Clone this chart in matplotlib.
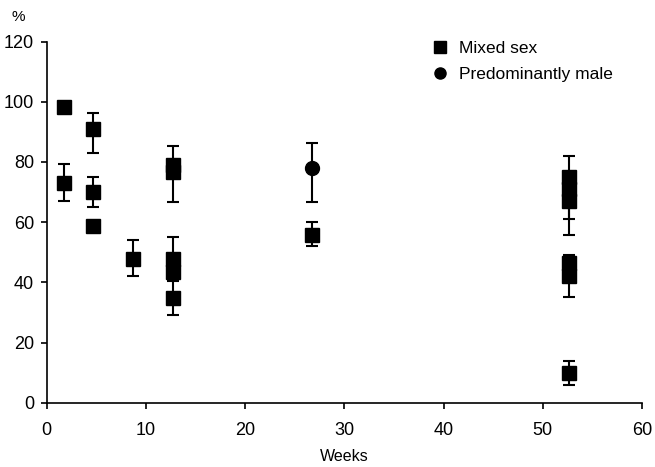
import numpy as np
import matplotlib.pyplot as plt
from matplotlib.lines import Line2D

plt.rcParams['font.family'] = ['Liberation Sans', 'DejaVu Sans']

# mixed sex studies: week, mean %, lower and upper error bar ends (nan = no bar)
mixed_weeks = [1.7, 1.7, 4.7, 4.7, 4.7, 8.7, 12.7, 12.7, 12.7, 12.7, 12.7, 26.7,
               52.6, 52.6, 52.6, 52.6, 52.6, 52.6]
mixed_vals = [98.1, 72.9, 90.8, 69.9, 58.8, 47.7, 79.0, 76.8, 47.7, 43.5, 34.7, 55.7,
              74.9, 71.0, 67.0, 46.5, 42.0, 9.8]
mixed_lo = [np.nan, 67.1, 82.9, 65.1, np.nan, 42.0, 66.8, np.nan, np.nan, 41.0, 29.0, 52.1,
            55.7, np.nan, 60.9, 35.0, np.nan, 5.9]
mixed_hi = [np.nan, 79.2, 96.1, 75.1, np.nan, 54.0, 85.4, np.nan, 55.0, np.nan, 40.4, 60.1,
            82.1, np.nan, np.nan, 49.1, 48.2, 13.9]

# predominantly male study
male_weeks = [26.7]
male_vals = [77.9]
male_lo = [66.8]
male_hi = [86.4]


def to_err(vals, lo, hi):
    vals = np.array(vals)
    lo = np.array(lo)
    hi = np.array(hi)
    lower = np.where(np.isnan(lo), 0, vals - lo)
    upper = np.where(np.isnan(hi), 0, hi - vals)
    return [lower, upper]


def draw(ax, weeks, vals, lo, hi, marker):
    err = to_err(vals, lo, hi)
    # only points that have a bar get caps, so hidden sides leave no stray caps
    has_lo = ~np.isnan(np.array(lo))
    has_hi = ~np.isnan(np.array(hi))
    w = np.array(weeks)
    v = np.array(vals)
    ax.errorbar(w[has_lo], v[has_lo], yerr=[err[0][has_lo], np.zeros(has_lo.sum())],
                fmt='none', ecolor='black', elinewidth=1.5, capsize=4.5, capthick=1.5)
    ax.errorbar(w[has_hi], v[has_hi], yerr=[np.zeros(has_hi.sum()), err[1][has_hi]],
                fmt='none', ecolor='black', elinewidth=1.5, capsize=4.5, capthick=1.5)
    ax.plot(w, v, ls='none', marker=marker, color='black', markersize=10, zorder=3)


fig = plt.figure(figsize=(6.55, 4.67), dpi=100)
ax = fig.add_axes([0.0713, 0.1377, 0.909, 0.7733])

draw(ax, mixed_weeks, mixed_vals, mixed_lo, mixed_hi, 's')
draw(ax, male_weeks, male_vals, male_lo, male_hi, 'o')

ax.set_xlim(0, 60)
ax.set_ylim(0, 120)
ax.set_xticks(range(0, 61, 10))
ax.set_yticks(range(0, 121, 20))
ax.spines['top'].set_visible(False)
ax.spines['right'].set_visible(False)
ax.spines['left'].set_linewidth(1.2)
ax.spines['bottom'].set_linewidth(1.2)
ax.tick_params(labelsize=13, length=4, width=1.2)
ax.tick_params(axis='x', pad=10)
ax.tick_params(axis='y', pad=5)
ax.set_xlabel('Weeks', fontsize=11.5, labelpad=7)
fig.text(0.018, 0.955, '%', fontsize=11)

handles = [Line2D([], [], ls='none', marker='s', color='black', markersize=8),
           Line2D([], [], ls='none', marker='o', color='black', markersize=8)]
ax.legend(handles, ['Mixed sex', 'Predominantly male'], loc='upper left',
          bbox_to_anchor=(0.62, 1.045), frameon=False, fontsize=12.5,
          handletextpad=0.6, labelspacing=0.6, handlelength=1.0)

fig.savefig('out.png', dpi=100)
